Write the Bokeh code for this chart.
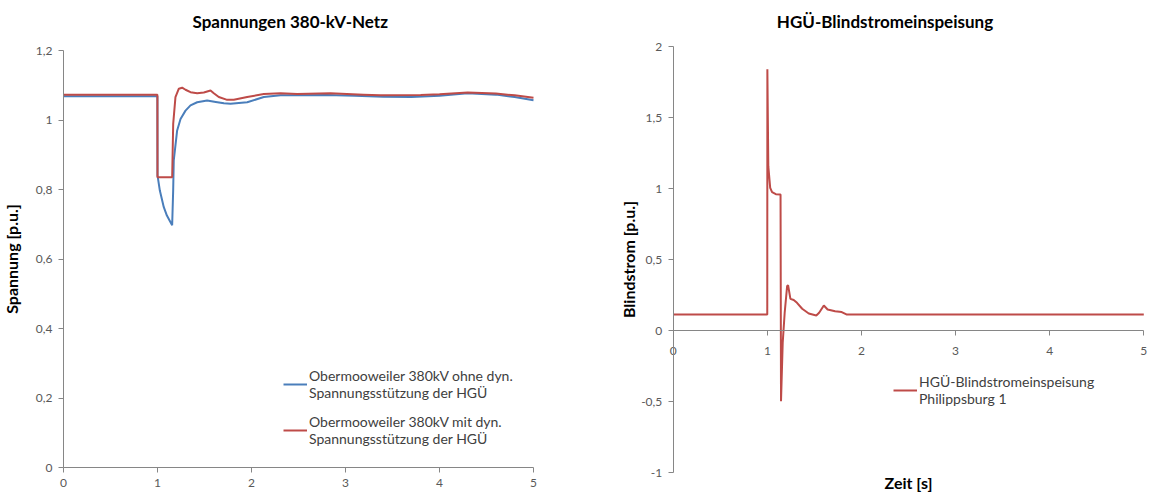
from bokeh.plotting import figure
from bokeh.models import Range1d, FixedTicker, Legend, LegendItem, Label
from bokeh.layouts import row
from bokeh.embed import file_html
from bokeh.resources import INLINE

# ---------------- data: left chart (Spannungen) ----------------
t_ohne = [0, 0.999, 1.0, 1.005, 1.025, 1.067, 1.10, 1.13, 1.156, 1.167, 1.173, 1.209, 1.245,
          1.298, 1.351, 1.422, 1.528, 1.62, 1.706, 1.777, 1.954, 2.131, 2.309, 2.486, 2.8,
          3.1, 3.4, 3.7, 4.0, 4.3, 4.6, 4.8, 5.0]
u_ohne = [1.068, 1.068, 0.84, 0.832, 0.797, 0.749, 0.725, 0.71, 0.697, 0.80, 0.884, 0.970, 1.003,
          1.027, 1.042, 1.051, 1.056, 1.052, 1.048, 1.047, 1.051, 1.066, 1.071, 1.071, 1.072,
          1.070, 1.067, 1.066, 1.070, 1.077, 1.073, 1.066, 1.057]

t_mit = [0, 0.999, 1.0, 1.156, 1.167, 1.191, 1.227, 1.262, 1.298, 1.351, 1.422, 1.493, 1.564,
         1.599, 1.652, 1.741, 1.812, 1.954, 2.131, 2.309, 2.486, 2.84, 3.19, 3.37, 3.8, 4.0,
         4.3, 4.6, 4.8, 5.0]
u_mit = [1.073, 1.073, 0.835, 0.835, 0.989, 1.066, 1.090, 1.093, 1.087, 1.080, 1.077, 1.079, 1.085,
         1.077, 1.066, 1.058, 1.058, 1.066, 1.075, 1.077, 1.075, 1.077, 1.073, 1.071, 1.072, 1.074,
         1.079, 1.076, 1.071, 1.064]

# ---------------- data: right chart (Blindstrom) ----------------
t_blind = [0, 0.999, 1.0, 1.01, 1.03, 1.05, 1.09, 1.14, 1.145, 1.163, 1.184, 1.21, 1.22, 1.245,
           1.28, 1.315, 1.37, 1.44, 1.52, 1.55, 1.60, 1.64, 1.72, 1.79, 1.84, 2.0, 5.0]
i_blind = [0.113, 0.113, 1.84, 1.157, 1.005, 0.974, 0.96, 0.958, -0.498, -0.087, 0.125, 0.312, 0.32,
           0.223, 0.215, 0.195, 0.153, 0.12, 0.106, 0.125, 0.176, 0.148, 0.136, 0.13, 0.113, 0.113, 0.113]

x_ticks = [0, 1, 2, 3, 4, 5]
x_labels = ["0", "1", "2", "3", "4", "5"]
yl_ticks = [0, 0.2, 0.4, 0.6, 0.8, 1.0, 1.2]
yl_labels = ["0", "0,2", "0,4", "0,6", "0,8", "1", "1,2"]
yr_ticks = [-1, -0.5, 0, 0.5, 1, 1.5, 2]
yr_labels = ["-1", "-0,5", "0", "0,5", "1", "1,5", "2"]

label_ohne = "Obermooweiler 380kV ohne dyn.\nSpannungsstützung der HGÜ"
label_mit = "Obermooweiler 380kV mit dyn.\nSpannungsstützung der HGÜ"
label_blind = "HGÜ-Blindstromeinspeisung\nPhilippsburg 1"

BLUE = "#4a7ebb"
RED = "#be4b48"
AXIS = "#868686"
TICKTXT = "#595959"
FONT = "Lato"

# Both plots in a row share frame top/bottom, so ranges are padded and the
# axes are fixed at 0 to place them like in the original.
FRAME_TOP, FRAME_BOTTOM, FIG_H = 37, 492, 493


def style_axes(p):
    for ax in p.xaxis + p.yaxis:
        ax.axis_line_color = AXIS
        ax.major_tick_line_color = AXIS
        ax.minor_tick_line_color = None
        ax.major_tick_in = 0
        ax.major_tick_out = 5
        ax.major_label_standoff = 6
        ax.major_label_text_font = FONT
        ax.major_label_text_font_size = "12px"
        ax.major_label_text_color = TICKTXT
        ax.axis_label_text_font = FONT
        ax.axis_label_text_font_style = "bold"
        ax.axis_label_text_font_size = "16px"
        ax.axis_label_text_color = "#000000"
    p.xgrid.visible = False
    p.ygrid.visible = False
    p.outline_line_color = None
    p.title.text_font = FONT
    p.title.text_font_size = "17px"
    p.title.text_font_style = "bold"
    p.title.text_color = "#000000"
    p.title.standoff = 12


# ---------------- left figure ----------------
# screen mapping wanted: y 0 -> 467px, 1.2 -> 50px ; x 0 -> 63px, 5 -> 533px
ly_px = (467 - 50) / 1.2
lx_px = (533 - 63) / 5
p1 = figure(width=588, height=FIG_H, output_backend="svg", toolbar_location=None,
            title="Spannungen 380-kV-Netz",
            x_range=Range1d(-(63 - 5) / lx_px, 5 + 7 / lx_px),
            y_range=Range1d(-(FRAME_BOTTOM - 467) / ly_px, 1.2 + (50 - FRAME_TOP) / ly_px),
            min_border_left=5, min_border_right=48, min_border_top=FRAME_TOP,
            min_border_bottom=FIG_H - FRAME_BOTTOM)
style_axes(p1)
p1.title.align = "left"
p1.title.offset = 187
p1.xaxis.ticker = FixedTicker(ticks=x_ticks)
p1.xaxis.major_label_overrides = dict(zip(x_ticks, x_labels))
p1.xaxis.fixed_location = 0
p1.xaxis.bounds = (0, 5)
p1.yaxis.ticker = FixedTicker(ticks=yl_ticks)
p1.yaxis.major_label_overrides = dict(zip(yl_ticks, yl_labels))
p1.yaxis.fixed_location = 0
p1.yaxis.bounds = (0, 1.2)
p1.yaxis.axis_label = "Spannung [p.u.]"
p1.yaxis.axis_label_standoff = 12

r_ohne = p1.line(t_ohne, u_ohne, line_color=BLUE, line_width=2)
r_mit = p1.line(t_mit, u_mit, line_color=RED, line_width=2)

leg1 = Legend(items=[LegendItem(label=label_ohne, renderers=[r_ohne]),
                     LegendItem(label=label_mit, renderers=[r_mit])],
              location=(278, 45), background_fill_alpha=0, border_line_color=None,
              padding=0, margin=0, spacing=12, glyph_width=24, label_standoff=2,
              label_text_font=FONT, label_text_font_size="14px", label_text_color="#404040")
p1.add_layout(leg1)

# ---------------- right figure ----------------
# screen mapping wanted: y 2 -> 46px, -1 -> 472px ; x 0 -> 673px, 5 -> 1143px
ry_px = (472 - 46) / 3
p2 = figure(width=560, height=FIG_H, output_backend="svg", toolbar_location=None,
            title="HGÜ-Blindstromeinspeisung",
            x_range=Range1d(-0.55, 5.05),
            y_range=Range1d(-1 - (FRAME_BOTTOM - 472) / ry_px, 2 + (46 - FRAME_TOP) / ry_px),
            min_border_left=33, min_border_right=0, min_border_top=FRAME_TOP,
            min_border_bottom=FIG_H - FRAME_BOTTOM)
style_axes(p2)
p2.title.align = "center"
p2.xaxis.ticker = FixedTicker(ticks=x_ticks)
p2.xaxis.major_label_overrides = dict(zip(x_ticks, x_labels))
p2.xaxis.fixed_location = 0
p2.xaxis.bounds = (0, 5)
p2.xaxis.major_label_standoff = 11
p2.yaxis.ticker = FixedTicker(ticks=yr_ticks)
p2.yaxis.major_label_overrides = dict(zip(yr_ticks, yr_labels))
p2.yaxis.fixed_location = 0
p2.yaxis.bounds = (-1, 2)
p2.yaxis.axis_label = "Blindstrom [p.u.]"
p2.yaxis.axis_label_standoff = 0

p2.add_layout(Label(x=2.5, y=-1 - (482 - 472) / ry_px, text="Zeit [s]", text_align="center",
                    text_baseline="middle", text_font=FONT, text_font_size="16px",
                    text_font_style="bold", text_color="#000000"))

r_blind = p2.line(t_blind, i_blind, line_color=RED, line_width=2)
leg2 = Legend(items=[LegendItem(label=label_blind, renderers=[r_blind])],
              location=(272, 85), background_fill_alpha=0, border_line_color=None,
              padding=0, margin=0, glyph_width=24, label_standoff=2,
              label_text_font=FONT, label_text_font_size="14px", label_text_color="#404040")
p2.add_layout(leg2)

layout = row(p1, p2)
open("out.html", "w").write(file_html(layout, INLINE))
